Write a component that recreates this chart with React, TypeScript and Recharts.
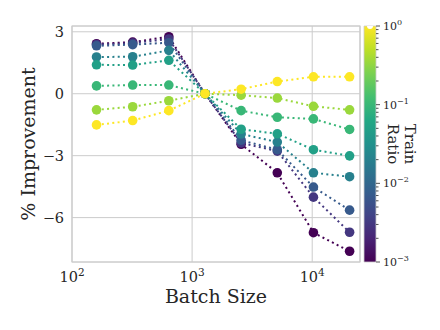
import { LineChart, Line, XAxis, YAxis, CartesianGrid, ReferenceArea, ComposedChart, Label } from "recharts";

// batch sizes on the x axis (log scale)
const batchSizes = [160, 320, 640, 1280, 2560, 5120, 10240, 20480];

// train ratio of each curve, drawn dark first so the yellow ends up on top
const trainRatios = [0.001, 0.003, 0.007, 0.02, 0.05, 0.1, 0.35, 1];

// % improvement per batch size, one array per train ratio
const imp0001 = [2.42, 2.5, 2.76, 0, -2.45, -3.83, -6.73, -7.63];
const imp0003 = [2.38, 2.45, 2.65, 0, -2.38, -2.78, -5.01, -6.71];
const imp0007 = [2.32, 2.38, 2.47, 0, -2.25, -2.71, -4.52, -5.64];
const imp002 = [1.78, 1.79, 2.1, 0, -1.95, -2.34, -3.83, -4.02];
const imp005 = [1.4, 1.39, 1.62, 0, -1.72, -1.94, -2.71, -3.01];
const imp01 = [0.38, 0.42, 0.42, 0, -0.82, -1.14, -1.22, -1.73];
const imp035 = [-0.78, -0.63, -0.34, 0, -0.07, -0.21, -0.61, -0.78];
const imp1 = [-1.51, -1.3, -0.82, 0, 0.22, 0.59, 0.82, 0.82];

const series = [imp0001, imp0003, imp0007, imp002, imp005, imp01, imp035, imp1];

const xTicks = [100, 1000, 10000];
const yTicks = [-6, -3, 0, 3];

const VIRIDIS = [
  "#440154", "#482475", "#414487", "#355f8d", "#2a788e", "#21918c",
  "#22a884", "#44bf70", "#7ad151", "#bddf26", "#fde725",
];

function hexToRgb(h: string) {
  return [1, 3, 5].map((i) => parseInt(h.slice(i, i + 2), 16));
}

function viridis(t: number) {
  const v = Math.max(0, Math.min(1, t)) * (VIRIDIS.length - 1);
  const i = Math.min(Math.floor(v), VIRIDIS.length - 2);
  const f = v - i;
  const a = hexToRgb(VIRIDIS[i]);
  const b = hexToRgb(VIRIDIS[i + 1]);
  const c = a.map((x, k) => Math.round(x + (b[k] - x) * f));
  return `rgb(${c[0]},${c[1]},${c[2]})`;
}

const ratioColor = (r: number) => viridis((Math.log10(r) + 3) / 3);

const rows = batchSizes.map((b, i) => {
  const row: Record<string, number> = { batch: b };
  series.forEach((s, k) => (row[`s${k}`] = s[i]));
  return row;
});

// minor + major ticks for the colorbar
const cbarTicks: number[] = [];
for (let e = -3; e < 0; e++) {
  for (let m = 1; m < 10; m++) cbarTicks.push(+(m * Math.pow(10, e)).toPrecision(3));
}
cbarTicks.push(1);

const FONT = "DejaVu Serif";
const TEXT = "#262626";
const GRID = "#cccccc";

function expLabel(exp: number) {
  return exp < 0 ? `\u2212${-exp}` : `${exp}`;
}

function XTick(props: any) {
  const { x, y, payload } = props;
  const e = Math.round(Math.log10(payload.value));
  return (
    <text x={x} y={y + 19.5} textAnchor="middle" fontFamily={FONT} fontSize={14.5} fill={TEXT}>
      <tspan>10</tspan>
      <tspan dy={-6} fontSize={10.5}>{expLabel(e)}</tspan>
    </text>
  );
}

function YTick(props: any) {
  const { x, y, payload } = props;
  const v = payload.value;
  return (
    <text x={x - 8} y={y + 5} textAnchor="end" fontFamily={FONT} fontSize={14.5} fill={TEXT}>
      {v < 0 ? `\u2212${Math.abs(v)}` : `${v}`}
    </text>
  );
}

function CbarTick(props: any) {
  const { x, y, payload } = props;
  const v = payload.value;
  const e = Math.log10(v);
  const major = Math.abs(e - Math.round(e)) < 1e-6;
  return (
    <g>
      <line x1={x} x2={x + (major ? 4 : 2.5)} y1={y} y2={y} stroke={TEXT} strokeWidth={0.8} />
      {major && (
        <text x={x + 7} y={y + 4} fontFamily={FONT} fontSize={11} fill={TEXT}>
          <tspan>10</tspan>
          <tspan dy={-5} fontSize={8}>{expLabel(Math.round(e))}</tspan>
        </text>
      )}
    </g>
  );
}

function ImprovementChart() {
  return (
    <LineChart
      width={440}
      height={330}
      data={rows}
      margin={{ top: 26, right: 80, bottom: 28, left: 0 }}
    >
      <CartesianGrid stroke={GRID} strokeWidth={1} />
      <XAxis
        dataKey="batch"
        type="number"
        scale="log"
        domain={[100, 25000]}
        ticks={xTicks}
        allowDataOverflow
        height={40}
        tickLine={false}
        axisLine={false}
        tickSize={0}
        tickMargin={0}
        tick={<XTick />}
      >
        <Label
          content={(p: any) => (
            <text
              x={p.viewBox.x + p.viewBox.width / 2}
              y={302.5}
              textAnchor="middle"
              fontFamily={FONT}
              fontSize={19}
              fill={TEXT}
            >
              Batch Size
            </text>
          )}
        />
      </XAxis>
      <YAxis
        type="number"
        domain={[-8.15, 3.28]}
        ticks={yTicks}
        allowDataOverflow
        width={72}
        tickLine={false}
        axisLine={false}
        tickSize={0}
        tickMargin={0}
        tick={<YTick />}
      >
        <Label
          content={(p: any) => {
            const cy = p.viewBox.y + p.viewBox.height / 2;
            return (
              <text
                x={28}
                y={cy}
                dy={7}
                transform={`rotate(-90, 28, ${cy})`}
                textAnchor="middle"
                fontFamily={FONT}
                fontSize={19}
                fill={TEXT}
              >
                % Improvement
              </text>
            );
          }}
        />
      </YAxis>
      <ReferenceArea x1={100} x2={25000} y1={-8.15} y2={3.28} fill="none" stroke={GRID} strokeWidth={1.2} />
      {trainRatios.map((r, k) => {
        const color = ratioColor(r);
        return (
          <Line
            key={k}
            dataKey={`s${k}`}
            stroke={color}
            strokeWidth={2}
            strokeDasharray="2 3.3"
            isAnimationActive={false}
            dot={(p: any) => <circle key={`d${k}-${p.index}`} cx={p.cx} cy={p.cy} r={4.8} fill={color} />}
            activeDot={false}
          />
        );
      })}
    </LineChart>
  );
}

function Colorbar() {
  return (
    <ComposedChart
      width={80}
      height={330}
      data={[{ c: 0, v: 1 }]}
      margin={{ top: 26, right: 0, bottom: 68, left: 4 }}
    >
      <defs>
        <linearGradient id="viridisBar" x1="0" y1="1" x2="0" y2="0">
          {VIRIDIS.map((c, i) => (
            <stop key={i} offset={`${(i / (VIRIDIS.length - 1)) * 100}%`} stopColor={c} />
          ))}
        </linearGradient>
      </defs>
      <XAxis dataKey="c" hide height={0} />
      <YAxis
        orientation="right"
        type="number"
        scale="log"
        domain={[0.001, 1]}
        ticks={cbarTicks}
        interval={0}
        allowDataOverflow
        width={64}
        tickLine={false}
        axisLine={false}
        tickSize={0}
        tickMargin={0}
        tick={<CbarTick />}
      >
        <Label
          content={(p: any) => {
            const cx = 401.5 - 360;
            const cy = p.viewBox.y + p.viewBox.height / 2;
            return (
              <text
                transform={`rotate(90, ${cx}, ${cy})`}
                x={cx}
                y={cy}
                textAnchor="middle"
                fontFamily={FONT}
                fontSize={15}
                fill={TEXT}
              >
                <tspan x={cx} dy={-3}>Train</tspan>
                <tspan x={cx} dy={17}>Ratio</tspan>
              </text>
            );
          }}
        />
      </YAxis>
      <ReferenceArea y1={0.001} y2={1} fill="url(#viridisBar)" fillOpacity={1} stroke={GRID} strokeWidth={0.8} />
      <Line dataKey="v" stroke="none" dot={false} isAnimationActive={false} />
    </ComposedChart>
  );
}

export default function App() {
  return (
    <div style={{ position: "absolute", left: 0, top: 0, width: 440, height: 330, background: "#fff" }}>
      <div style={{ position: "absolute", left: 0, top: 0 }}>
        <ImprovementChart />
      </div>
      <div style={{ position: "absolute", left: 360, top: 0 }}>
        <Colorbar />
      </div>
    </div>
  );
}
